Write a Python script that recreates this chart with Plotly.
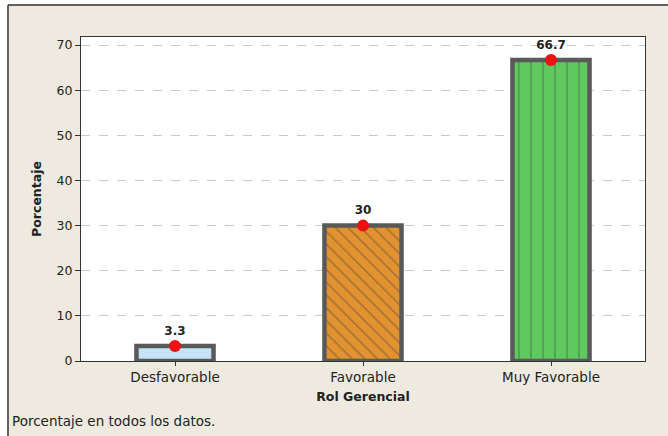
import plotly.graph_objects as go

categories = ["Desfavorable", "Favorable", "Muy Favorable"]
values = [3.3, 30, 66.7]
labels = ["3.3", "30", "66.7"]
fill_colors = ["#C4E4F6", "#E2922E", "#5FC95F"]
patterns = ["", "\\", "|"]

W, H = 668, 436
L, R, T, B = 81, 23, 37, 75
pw, ph = W - L - R, H - T - B

def px(x):
    return (x - L) / pw

def py(y):
    return (H - B - y) / ph

fig = go.Figure()
fig.add_trace(go.Bar(
    x=categories, y=values, width=0.41,
    marker=dict(color=fill_colors,
                line=dict(color="#595959", width=4.5),
                pattern=dict(shape=patterns, fgcolor="#3a3a3a", size=[9, 9, 12],
                             solidity=[0.12, 0.14, 0.1])),
    hoverinfo="skip", showlegend=False,
))
fig.add_trace(go.Scatter(
    x=categories, y=values, mode="markers+text", text=labels,
    textposition="top center",
    textfont=dict(family="DejaVu Sans", size=12, color="#222222", weight="bold"),
    marker=dict(color="#EE1111", size=12),
    cliponaxis=False, showlegend=False,
))

fig.update_layout(
    width=W, height=H,
    margin=dict(l=L, r=R, t=T, b=B),
    paper_bgcolor="#EEEAE0", plot_bgcolor="white",
    font=dict(family="DejaVu Sans", size=12, color="#222222"),
    xaxis=dict(range=[-0.5, 2.5], showline=True, linecolor="#333333", linewidth=1.2, mirror=True,
               ticks="outside", ticklen=4, tickcolor="#333333", showgrid=False,
               title=dict(text="<b>Rol Gerencial</b>", font=dict(size=12.5), standoff=7),
               tickfont=dict(size=13.5)),
    yaxis=dict(range=[0, 71.8], dtick=10, showline=True, linecolor="#333333", linewidth=1.2, mirror=True,
               ticks="outside", ticklen=5, tickcolor="#333333",
               showgrid=True, gridcolor="#C8C8C8", griddash="dash", gridwidth=1, zeroline=False,
               title=dict(text="<b>Porcentaje</b>", font=dict(size=12.5), standoff=12),
               tickfont=dict(size=12.5)),
    shapes=[
        dict(type="rect", xref="paper", yref="paper", x0=px(-5), x1=px(8), y0=py(440), y1=py(-5),
             fillcolor="white", line=dict(width=0), layer="below"),
        dict(type="rect", xref="paper", yref="paper", x0=px(-5), x1=px(675), y0=py(5), y1=py(-5),
             fillcolor="white", line=dict(width=0), layer="below"),
        dict(type="line", xref="paper", yref="paper", x0=px(8), x1=px(8), y0=py(440), y1=py(5),
             line=dict(color="#333333", width=1.5)),
        dict(type="line", xref="paper", yref="paper", x0=px(8), x1=px(675), y0=py(5), y1=py(5),
             line=dict(color="#333333", width=1.5)),
    ],
    annotations=[
        dict(text="Porcentaje en todos los datos.", xref="paper", yref="paper",
             x=px(10), y=py(421), xanchor="left", yanchor="middle", showarrow=False,
             font=dict(size=13.5, color="#222222")),
    ],
)

fig.write_html("out.html")
